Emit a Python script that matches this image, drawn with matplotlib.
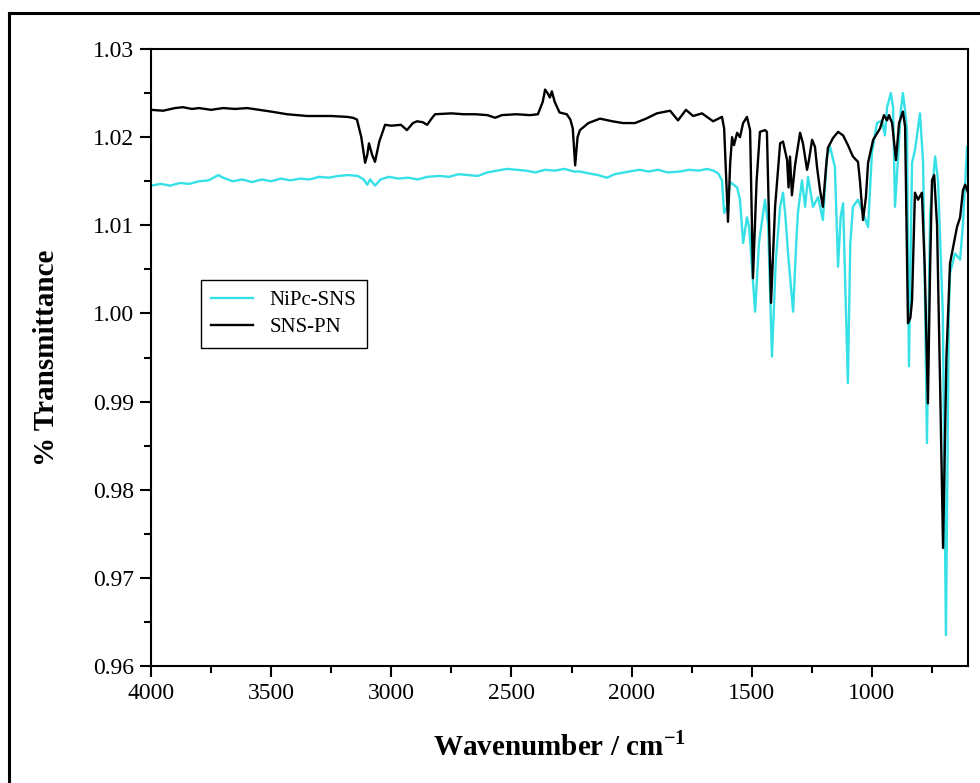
import matplotlib
matplotlib.use("Agg")
import matplotlib.pyplot as plt
from matplotlib.lines import Line2D
from matplotlib.ticker import MultipleLocator, AutoMinorLocator

plt.rcParams['font.family'] = ['Liberation Serif', 'DejaVu Serif']

# FT-IR spectrum of SNS-PN (wavenumber in cm^-1, transmittance)
sns_pn_wn = [4000, 3950, 3900, 3867, 3830, 3800, 3750, 3700, 3650, 3600, 3550, 3500,
             3434, 3350, 3250, 3184, 3160, 3143, 3125, 3109, 3100, 3093, 3080, 3068,
             3050, 3026, 3000, 2960, 2935, 2910, 2893, 2870, 2851, 2830, 2818, 2750,
             2700, 2650, 2600, 2568, 2540, 2480, 2423, 2390, 2370, 2360, 2350, 2340,
             2332, 2320, 2300, 2270, 2255, 2245, 2235, 2225, 2215, 2180, 2132, 2080,
             2036, 1986, 1940, 1895, 1840, 1807, 1774, 1744, 1707, 1661, 1624, 1615,
             1599, 1590, 1582, 1574, 1561, 1549, 1536, 1520, 1507, 1495, 1480, 1466,
             1445, 1437, 1420, 1403, 1382, 1370, 1353, 1347, 1341, 1333, 1320, 1299,
             1287, 1270, 1262, 1249, 1237, 1228, 1216, 1204, 1191, 1183, 1162, 1141,
             1120, 1100, 1079, 1058, 1050, 1037, 1025, 1016, 995, 966, 950, 937,
             929, 916, 900, 887, 871, 862, 850, 840, 833, 821, 808, 792,
             780, 767, 758, 750, 741, 729, 715, 704, 690, 675, 646, 633,
             621, 612, 600]
sns_pn_t = [1.0231, 1.0230, 1.0233, 1.0234, 1.0232, 1.0233, 1.0231, 1.0233, 1.0232, 1.0233, 1.0231, 1.0229,
            1.0226, 1.0224, 1.0224, 1.0223, 1.0222, 1.0220, 1.0200, 1.0171, 1.0180, 1.0193, 1.0180, 1.0172,
            1.0195, 1.0214, 1.0213, 1.0214, 1.0208, 1.0216, 1.0218, 1.0217, 1.0214, 1.0222, 1.0226, 1.0227,
            1.0226, 1.0226, 1.0225, 1.0222, 1.0225, 1.0226, 1.0225, 1.0226, 1.0240, 1.0254, 1.0250, 1.0245,
            1.0252, 1.0240, 1.0228, 1.0226, 1.0220, 1.0210, 1.0168, 1.0200, 1.0208, 1.0216, 1.0221, 1.0218,
            1.0216, 1.0216, 1.0221, 1.0227, 1.0230, 1.0219, 1.0231, 1.0224, 1.0227, 1.0218, 1.0223, 1.0210,
            1.0104, 1.0170, 1.0200, 1.0191, 1.0205, 1.0200, 1.0216, 1.0223, 1.0208, 1.0040, 1.0150, 1.0206,
            1.0208, 1.0206, 1.0012, 1.0121, 1.0193, 1.0195, 1.0174, 1.0143, 1.0178, 1.0134, 1.0168, 1.0205,
            1.0193, 1.0163, 1.0174, 1.0197, 1.0189, 1.0165, 1.0140, 1.0121, 1.0166, 1.0188, 1.0199, 1.0206,
            1.0202, 1.0191, 1.0178, 1.0172, 1.0151, 1.0106, 1.0132, 1.0171, 1.0197, 1.0210, 1.0225, 1.0219,
            1.0225, 1.0216, 1.0174, 1.0216, 1.0229, 1.0212, 0.9989, 0.9995, 1.0015, 1.0137, 1.0129, 1.0137,
            1.0050, 0.9898, 1.0050, 1.0151, 1.0157, 1.0100, 0.9900, 0.9734, 0.9950, 1.0057, 1.0098, 1.0109,
            1.0140, 1.0146, 1.0137]

# FT-IR spectrum of NiPc-SNS
nipc_wn = [4000, 3960, 3920, 3880, 3840, 3800, 3760, 3720, 3700, 3660, 3620, 3580,
           3540, 3500, 3460, 3420, 3380, 3340, 3300, 3260, 3220, 3180, 3140, 3115,
           3100, 3088, 3068, 3045, 3010, 2970, 2930, 2890, 2850, 2800, 2760, 2720,
           2680, 2640, 2600, 2560, 2520, 2480, 2440, 2400, 2360, 2320, 2280, 2240,
           2215, 2180, 2140, 2103, 2070, 2030, 1990, 1965, 1930, 1890, 1850, 1800,
           1760, 1720, 1686, 1660, 1640, 1624, 1615, 1603, 1590, 1561, 1549, 1536,
           1520, 1511, 1486, 1470, 1445, 1432, 1416, 1400, 1382, 1370, 1360, 1349,
           1328, 1315, 1308, 1291, 1278, 1266, 1245, 1224, 1204, 1187, 1174, 1154,
           1141, 1130, 1120, 1100, 1090, 1079, 1058, 1037, 1016, 1000, 979, 958,
           946, 937, 921, 912, 904, 891, 880, 871, 862, 854, 846, 833,
           821, 800, 787, 771, 758, 737, 725, 705, 692, 680, 675, 654,
           633, 621, 604, 600]
nipc_t = [1.0145, 1.0147, 1.0145, 1.0148, 1.0147, 1.0150, 1.0151, 1.0157, 1.0154, 1.0150, 1.0152, 1.0149,
          1.0152, 1.0150, 1.0153, 1.0151, 1.0153, 1.0152, 1.0155, 1.0154, 1.0156, 1.0157, 1.0156, 1.0152,
          1.0146, 1.0152, 1.0145, 1.0152, 1.0155, 1.0153, 1.0154, 1.0152, 1.0155, 1.0156, 1.0155, 1.0158,
          1.0157, 1.0156, 1.0160, 1.0162, 1.0164, 1.0163, 1.0162, 1.0160, 1.0163, 1.0162, 1.0164, 1.0161,
          1.0161, 1.0159, 1.0157, 1.0154, 1.0158, 1.0160, 1.0162, 1.0163, 1.0161, 1.0163, 1.0160, 1.0161,
          1.0163, 1.0162, 1.0164, 1.0162, 1.0159, 1.0151, 1.0114, 1.0121, 1.0149, 1.0143, 1.0129, 1.0080,
          1.0109, 1.0098, 1.0002, 1.0080, 1.0129, 1.0100, 0.9951, 1.0060, 1.0121, 1.0137, 1.0110, 1.0068,
          1.0002, 1.0080, 1.0114, 1.0151, 1.0121, 1.0155, 1.0121, 1.0132, 1.0106, 1.0178, 1.0189, 1.0166,
          1.0053, 1.0110, 1.0125, 0.9921, 1.0080, 1.0121, 1.0129, 1.0114, 1.0098, 1.0182, 1.0216, 1.0219,
          1.0202, 1.0234, 1.0250, 1.0234, 1.0121, 1.0178, 1.0230, 1.0250, 1.0230, 1.0208, 0.9940, 1.0171,
          1.0185, 1.0227, 1.0171, 0.9853, 1.0114, 1.0178, 1.0151, 1.0000, 0.9635, 1.0000, 1.0046, 1.0068,
          1.0061, 1.0102, 1.0189, 1.0180]

fig = plt.figure(figsize=(9.8, 7.83), dpi=100)
ax = fig.add_axes([0.1541, 0.1494, 0.8337, 0.788])

ax.plot(nipc_wn, nipc_t, color='#35e0e6', lw=1.7, label='NiPc-SNS')
ax.plot(sns_pn_wn, sns_pn_t, color='black', lw=1.7, label='SNS-PN')

ax.set_xlim(4000, 600)
ax.set_ylim(0.96, 1.03)
ax.xaxis.set_major_locator(MultipleLocator(500))
ax.xaxis.set_minor_locator(AutoMinorLocator(2))
ax.yaxis.set_major_locator(MultipleLocator(0.01))
ax.yaxis.set_minor_locator(AutoMinorLocator(2))
ax.yaxis.set_major_formatter(matplotlib.ticker.FormatStrFormatter('%.2f'))

ax.tick_params(which='both', direction='out', top=False, right=False, width=1.5,
               labelsize=17)
ax.tick_params(which='major', length=8, pad=4)
ax.tick_params(which='minor', length=5)
for s in ax.spines.values():
    s.set_linewidth(1.5)

ax.set_xlabel('Wavenumber / cm$^{\\mathregular{-1}}$', fontsize=21, fontweight='bold',
              labelpad=20)
ax.set_ylabel('% Transmittance', fontsize=21, fontweight='bold', labelpad=24)

leg = ax.legend(loc='upper left', bbox_to_anchor=(0.048, 0.642), fontsize=15,
                frameon=True, fancybox=False, edgecolor='black', framealpha=1,
                handlelength=2.0, borderpad=0.5, labelspacing=0.35)
leg.get_frame().set_linewidth(1.0)

# outer frame lines along the top and left of the figure
fig.add_artist(Line2D([9 / 980, 9 / 980], [0, 1 - 13 / 783], transform=fig.transFigure,
                      color='black', lw=2.2))
fig.add_artist(Line2D([9 / 980, 1], [1 - 13 / 783, 1 - 13 / 783], transform=fig.transFigure,
                      color='black', lw=2.2))

fig.savefig('out.png', dpi=100)
